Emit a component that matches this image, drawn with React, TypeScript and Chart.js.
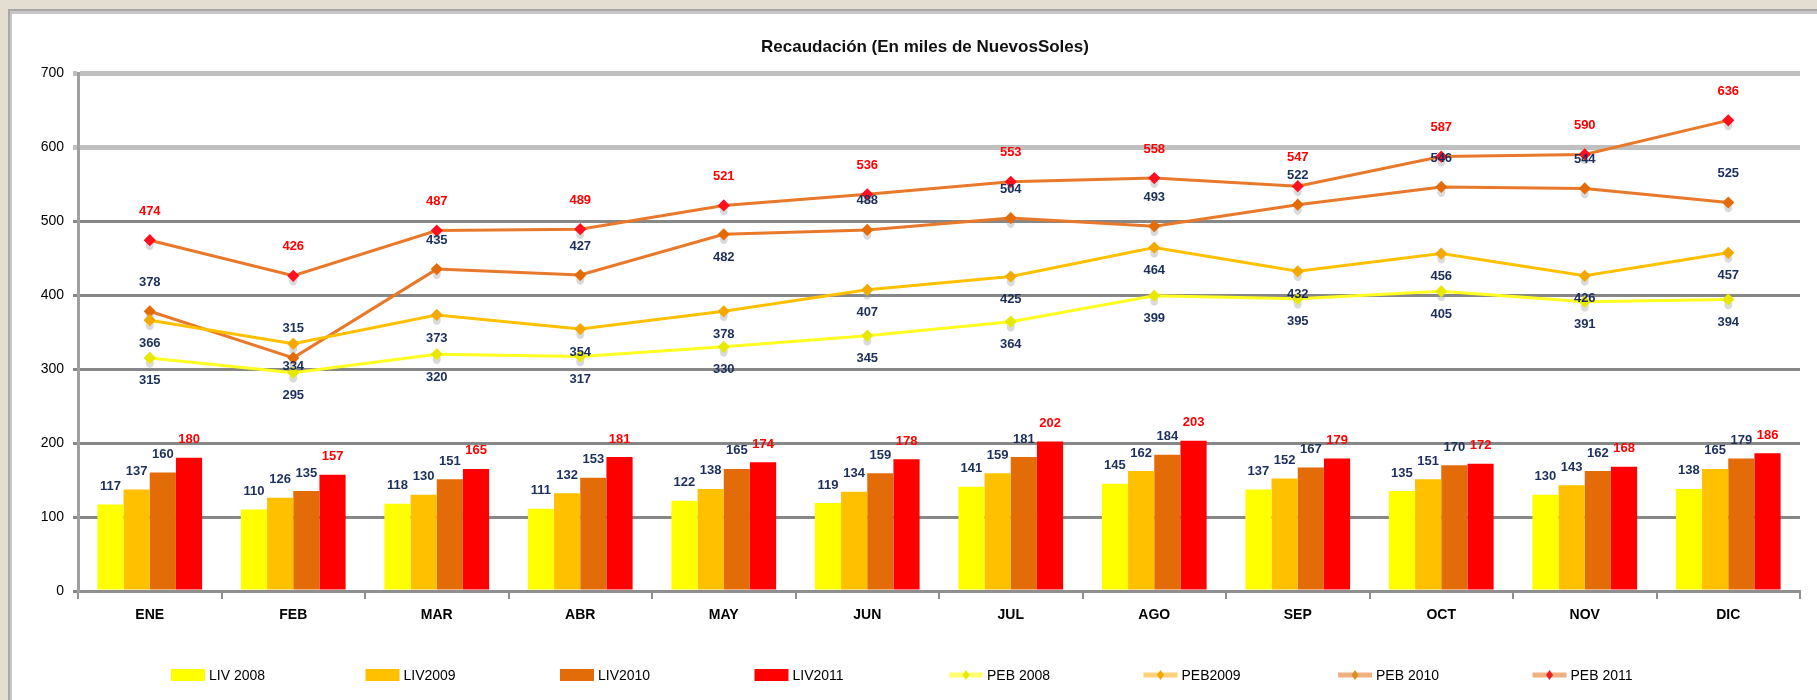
import React, { useEffect, useRef } from "react";
import { Chart, registerables } from "chart.js";

Chart.register(...registerables);

const months = ["ENE", "FEB", "MAR", "ABR", "MAY", "JUN", "JUL", "AGO", "SEP", "OCT", "NOV", "DIC"];
const liv2008 = [117, 110, 118, 111, 122, 119, 141, 145, 137, 135, 130, 138];
const liv2009 = [137, 126, 130, 132, 138, 134, 159, 162, 152, 151, 143, 165];
const liv2010 = [160, 135, 151, 153, 165, 159, 181, 184, 167, 170, 162, 179];
const liv2011 = [180, 157, 165, 181, 174, 178, 202, 203, 179, 172, 168, 186];
const peb2008 = [315, 295, 320, 317, 330, 345, 364, 399, 395, 405, 391, 394];
const peb2009 = [366, 334, 373, 354, 378, 407, 425, 464, 432, 456, 426, 457];
const peb2010 = [378, 315, 435, 427, 482, 488, 504, 493, 522, 546, 544, 525];
const peb2011 = [474, 426, 487, 489, 521, 536, 553, 558, 547, 587, 590, 636];
const seriesNames = ["LIV 2008", "LIV2009", "LIV2010", "LIV2011", "PEB 2008", "PEB2009", "PEB 2010", "PEB 2011"];
const titleText = "Recaudación (En miles de NuevosSoles)";

const FONT = "'Liberation Sans', Arial, sans-serif";
const NAVY = "#1c2f5c";
const RED = "#ff0000";

// label placement per dataset (offset of text centre from point, px)
const labelStyle = [
  { off: -18, color: NAVY },
  { off: -18, color: NAVY },
  { off: -18, color: NAVY },
  { off: -18, color: RED },
  { off: 23, color: NAVY },
  { off: 23, color: NAVY },
  { off: -29, color: NAVY, special: { 4: 23 } as Record<number, number> },
  { off: -29, color: RED },
];

const legendStyle = [
  { kind: "bar", color: "#ffff00" },
  { kind: "bar", color: "#ffc000" },
  { kind: "bar", color: "#e36c09" },
  { kind: "bar", color: "#ff0000" },
  { kind: "line", color: "#ffff70", marker: "#e8e800" },
  { kind: "line", color: "#ffd27a", marker: "#f0a800" },
  { kind: "line", color: "#f0b080", marker: "#d89020" },
  { kind: "line", color: "#f0b080", marker: "#e8202a" },
];

const framePlugin = {
  id: "frame",
  beforeDraw(chart: any) {
    const { ctx, width, height } = chart;
    ctx.save();
    ctx.fillStyle = "#e4ded2";
    ctx.fillRect(0, 0, width, height);
    ctx.fillStyle = "#a8a8a8";
    ctx.fillRect(8, 9, width - 8, height - 9);
    ctx.fillStyle = "#c8c8c8";
    ctx.fillRect(10, 11, width - 10, height - 11);
    ctx.fillStyle = "#ffffff";
    ctx.fillRect(12, 14, width - 12, height - 14);
    ctx.restore();
  },
  afterDraw(chart: any) {
    const { ctx } = chart;
    ctx.save();
    ctx.fillStyle = "#111111";
    ctx.font = `bold 17px ${FONT}`;
    ctx.textAlign = "center";
    ctx.textBaseline = "middle";
    ctx.fillText(titleText, 925, 47);

    // legend
    const y = 675;
    ctx.font = `14px ${FONT}`;
    ctx.textAlign = "left";
    seriesNames.forEach((name, i) => {
      const x0 = 171 + i * 194.5;
      const st = legendStyle[i];
      if (st.kind === "bar") {
        ctx.fillStyle = st.color;
        ctx.fillRect(x0, y - 6, 34, 12);
      } else {
        ctx.strokeStyle = st.color;
        ctx.lineWidth = 5;
        ctx.beginPath();
        ctx.moveTo(x0, y);
        ctx.lineTo(x0 + 34, y);
        ctx.stroke();
        ctx.fillStyle = st.marker;
        ctx.beginPath();
        ctx.moveTo(x0 + 17, y - 5);
        ctx.lineTo(x0 + 20.5, y);
        ctx.lineTo(x0 + 17, y + 5);
        ctx.lineTo(x0 + 13.5, y);
        ctx.closePath();
        ctx.fill();
      }
      ctx.fillStyle = "#000000";
      ctx.fillText(name, x0 + 38, y + 1);
    });
    ctx.restore();
  },
};

const shadowPlugin = {
  id: "pointShadow",
  beforeDatasetsDraw(chart: any) {
    const { ctx } = chart;
    ctx.save();
    ctx.fillStyle = "rgba(150,150,150,0.35)";
    chart.data.datasets.forEach((ds: any, di: number) => {
      if (ds.type !== "line") return;
      chart.getDatasetMeta(di).data.forEach((el: any) => {
        ctx.beginPath();
        ctx.ellipse(el.x, el.y + 5, 4, 5, 0, 0, Math.PI * 2);
        ctx.fill();
      });
    });
    ctx.restore();
  },
};

const labelPlugin = {
  id: "valueLabels",
  afterDatasetsDraw(chart: any) {
    const { ctx } = chart;
    ctx.save();
    ctx.font = `bold 13px ${FONT}`;
    ctx.textAlign = "center";
    ctx.textBaseline = "middle";
    chart.data.datasets.forEach((ds: any, di: number) => {
      const st: any = labelStyle[di];
      chart.getDatasetMeta(di).data.forEach((el: any, i: number) => {
        let off = st.off;
        if (st.special && st.special[i] !== undefined) off = st.special[i];
        ctx.fillStyle = st.color;
        ctx.fillText(String(ds.data[i]), el.x, el.y + off);
      });
    });
    ctx.restore();
  },
};

export default function App() {
  const ref = useRef<HTMLCanvasElement | null>(null);

  useEffect(() => {
    document.body.style.margin = "0";
    const canvas = ref.current;
    if (!canvas) return;
    const barDs = (label: string, data: number[], color: string) => ({
      type: "bar" as const,
      label,
      data,
      backgroundColor: color,
      borderWidth: 0,
      categoryPercentage: 0.73,
      barPercentage: 1.0,
      order: 2,
    });
    const lineDs = (label: string, data: number[], color: string, marker: string) => ({
      type: "line" as const,
      label,
      data,
      borderColor: color,
      borderWidth: 3,
      backgroundColor: marker,
      pointBackgroundColor: marker,
      pointBorderColor: marker,
      pointStyle: "rectRot",
      pointRadius: 4,
      tension: 0,
      fill: false,
      order: 1,
    });
    const chart = new Chart(canvas, {
      data: {
        labels: months,
        datasets: [
          barDs(seriesNames[0], liv2008, "#ffff00"),
          barDs(seriesNames[1], liv2009, "#ffc000"),
          barDs(seriesNames[2], liv2010, "#e36c09"),
          barDs(seriesNames[3], liv2011, "#ff0000"),
          lineDs(seriesNames[4], peb2008, "#ffff20", "#e8e800"),
          lineDs(seriesNames[5], peb2009, "#ffc000", "#f5a800"),
          lineDs(seriesNames[6], peb2010, "#e8782a", "#e36c09"),
          lineDs(seriesNames[7], peb2011, "#e8782a", "#ff1020"),
        ] as any,
      },
      options: {
        responsive: false,
        devicePixelRatio: 1,
        animation: false,
        layout: { padding: { left: 38, right: 17, top: 73, bottom: 79 } },
        plugins: {
          legend: { display: false },
          title: { display: false },
          tooltip: { enabled: false },
        },
        scales: {
          x: {
            offset: true,
            grid: {
              display: true,
              offset: true,
              drawOnChartArea: false,
              drawTicks: true,
              tickLength: 8,
              color: "#8f8f8f",
              lineWidth: 2,
            },
            border: { display: true, color: "#8f8f8f", width: 3 },
            ticks: {
              color: "#000000",
              font: { family: FONT, size: 14, weight: "bold" },
              padding: 8,
            },
            afterFit: (scale: any) => {
              scale.height = 30;
            },
          },
          y: {
            min: 0,
            max: 700,
            ticks: {
              stepSize: 100,
              color: "#000000",
              font: { family: FONT, size: 14 },
              padding: 9,
            },
            grid: {
              color: (c: any) => (c.tick && c.tick.value >= 600 ? "#c0c0c0" : "#878787"),
              lineWidth: (c: any) => (c.tick && c.tick.value >= 600 ? 5 : 3),
              tickLength: 5,
            },
            border: { display: true, color: "#a0a0a0", width: 3 },
            afterFit: (scale: any) => {
              scale.width = 40;
            },
          },
        },
      } as any,
      plugins: [framePlugin, shadowPlugin, labelPlugin],
    });
    return () => chart.destroy();
  }, []);

  return (
    <div style={{ width: 1817, height: 700 }}>
      <canvas ref={ref} width={1817} height={700} style={{ display: "block" }} />
    </div>
  );
}
